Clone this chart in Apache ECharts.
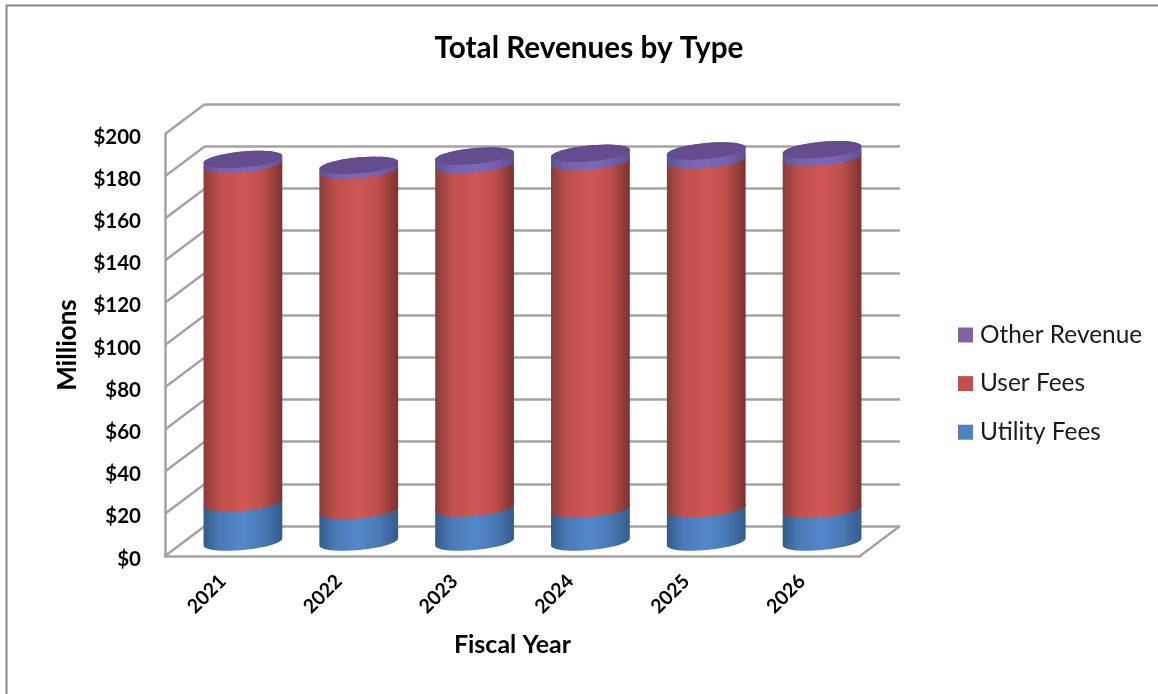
<!DOCTYPE html>
<html>
<head>
<meta charset="utf-8">
<title>Total Revenues by Type</title>
<style>html,body{margin:0;padding:0;background:#fff}#chart{width:1158px;height:694px}</style>
<script src="https://cdn.jsdelivr.net/npm/echarts@6/dist/echarts.min.js"></script>
</head>
<body>
<div id="chart"></div>
<script>
const years = ['2021', '2022', '2023', '2024', '2025', '2026'];
const utilityFees = [18.5, 14.9, 16.1, 15.6, 15.8, 15.4];
const userFees = [160.6, 161.4, 162.8, 164.6, 165.2, 166.9];
const otherRevenue = [2.2, 2.2, 4, 4, 4.3, 3.6];
const yTicks = [0, 20, 40, 60, 80, 100, 120, 140, 160, 180, 200];

const FONT = 'Lato, "Open Sans", sans-serif';
const DEPTH_X = 40, DEPTH_Y = 30;           // offset from the front plane to the back wall
const FRONT = { left: 165, right: 860, top: 134, bottom: 556 };
const WIDTH = 1158, HEIGHT = 694;
const WALL = '#a3a3a3';
const RIM_HEIGHT = 8;                       // vertical half-axis of a cylinder's rim
const RIM_SLANT = 3.5 / 39;                 // rise of the rim towards its right end

function gridAt(depth, nudge) {
  return {
    left: FRONT.left + DEPTH_X * depth,
    width: FRONT.right - FRONT.left,
    top: FRONT.top - DEPTH_Y * depth + (nudge || 0),
    height: FRONT.bottom - FRONT.top,
    containLabel: false
  };
}

function shaded(dark, mid, bright, darker) {
  return {
    type: 'linear', x: 0, y: 0, x2: 1, y2: 0,
    colorStops: [
      { offset: 0, color: dark },
      { offset: 0.2, color: mid },
      { offset: 0.5, color: bright },
      { offset: 0.75, color: mid },
      { offset: 1, color: darker }
    ]
  };
}

// Points of a slanted ellipse between the angles from and to (radians).
function arc(cx, cy, a, from, to) {
  const pts = [], steps = 40;
  for (let i = 0; i <= steps; i++) {
    const t = from + (to - from) * i / steps;
    pts.push([cx + a * Math.cos(t), cy + RIM_HEIGHT * Math.sin(t) - RIM_SLANT * a * Math.cos(t)]);
  }
  return pts;
}

function cylinderSegment(fill, capFill) {
  return function (params, api) {
    const low = api.coord([api.value(0), api.value(1)]);
    const high = api.coord([api.value(0), api.value(2)]);
    const a = api.size([1, 0])[0] * 0.34;
    const lowerFront = arc(low[0], low[1], a, Math.PI, 0);
    const upperBack = arc(high[0], high[1], a, 0, -Math.PI);
    const children = [{
      type: 'polygon',
      shape: { points: lowerFront.concat(upperBack) },
      style: { fill: fill }
    }];
    if (capFill) {
      children.push({
        type: 'polygon',
        shape: { points: arc(high[0], high[1], a, 0, Math.PI * 2) },
        style: { fill: capFill }
      });
    }
    return { type: 'group', children: children };
  };
}

function segments(values, below) {
  return values.map((v, i) => [i, below[i], below[i] + v]);
}
const userBase = utilityFees;
const otherBase = utilityFees.map((v, i) => v + userFees[i]);

function cylinderSeries(name, color, data, fill, capFill) {
  return {
    name: name,
    type: 'custom',
    xAxisIndex: 1,
    yAxisIndex: 1,
    silent: true,
    clip: false,
    itemStyle: { color: color },
    encode: { x: 0, y: [1, 2] },
    data: data,
    renderItem: cylinderSegment(fill, capFill),
    z: 5
  };
}

const chart = echarts.init(document.getElementById('chart'), null, { renderer: 'canvas' });
chart.setOption({
  animation: false,
  backgroundColor: '#ffffff',
  textStyle: { fontFamily: FONT },
  title: {
    text: 'Total Revenues by Type',
    left: 584, top: 28, textAlign: 'center',
    textStyle: { fontFamily: FONT, fontSize: 29.7, fontWeight: 'bold', color: '#000' }
  },
  legend: {
    orient: 'vertical',
    left: 953, top: 318,
    itemWidth: 15, itemHeight: 15, itemGap: 24.6,
    icon: 'rect',
    data: ['Other Revenue', 'User Fees', 'Utility Fees'],
    textStyle: { fontFamily: FONT, fontSize: 24.4, color: '#1a1a1a', padding: [0, 0, 0, 2] }
  },
  graphic: [{
    type: 'polyline',
    shape: { points: [[6.5, HEIGHT], [6.5, 5.5], [WIDTH, 5.5]] },
    style: { stroke: '#888888', lineWidth: 2, fill: null },
    silent: true
  }],
  grid: [gridAt(0), gridAt(0.5, 1), gridAt(1)],
  xAxis: [
    {
      gridIndex: 0, type: 'category', data: years,
      axisLine: { show: true, lineStyle: { color: WALL, width: 2.5 } },
      axisTick: { show: false },
      axisLabel: { rotate: 45, margin: 22, color: '#000', fontWeight: 'bold', fontSize: 19.5, fontFamily: FONT },
      name: 'Fiscal Year', nameLocation: 'middle', nameGap: 76,
      nameTextStyle: { color: '#000', fontWeight: 'bold', fontSize: 25, fontFamily: FONT }
    },
    { gridIndex: 1, type: 'category', data: years, show: false },
    {
      gridIndex: 2, type: 'category', data: years,
      axisLine: { show: false }, axisTick: { show: false }, axisLabel: { show: false }
    }
  ],
  yAxis: [
    {
      gridIndex: 0, type: 'value', min: 0, max: 200, interval: 20,
      axisLine: { show: true, lineStyle: { color: WALL, width: 2.5 } },
      axisTick: { show: false },
      splitLine: { show: false },
      axisLabel: { margin: 24, color: '#000', fontWeight: 'bold', fontSize: 20.5, fontFamily: FONT, verticalAlign: 'top', lineHeight: 6, formatter: '${value}' },
      name: 'Millions', nameLocation: 'middle', nameRotate: 90, nameGap: 84,
      nameTextStyle: { color: '#000', fontWeight: 'bold', fontSize: 26, fontFamily: FONT }
    },
    { gridIndex: 1, type: 'value', min: 0, max: 200, interval: 20, show: false },
    {
      gridIndex: 2, type: 'value', min: 0, max: 200, interval: 20,
      axisLine: { show: false }, axisTick: { show: false }, axisLabel: { show: false },
      splitLine: { show: true, lineStyle: { color: WALL, width: 2.5 } }
    }
  ],
  series: [
    {
      // side-wall rungs, plus the right edge of the floor
      type: 'custom',
      xAxisIndex: 0, yAxisIndex: 0,
      silent: true, clip: false, z: 1,
      encode: { y: 0 },
      data: yTicks.map(v => [v]),
      renderItem(params, api) {
        const sys = params.coordSys;
        const y = api.coord([0, api.value(0)])[1];
        const rung = x => ({
          type: 'line',
          shape: { x1: x, y1: y, x2: x + DEPTH_X, y2: y - DEPTH_Y },
          style: { stroke: WALL, lineWidth: 2.5 }
        });
        const parts = [rung(sys.x)];
        if (api.value(0) === 0) parts.push(rung(sys.x + sys.width));
        return { type: 'group', children: parts };
      }
    },
    cylinderSeries('Utility Fees', '#4f81bd', segments(utilityFees, utilityFees.map(() => 0)),
      shaded('#335a8a', '#4a7ab5', '#5288cb', '#345c8c')),
    cylinderSeries('User Fees', '#c0504d', segments(userFees, userBase),
      shaded('#8a3b39', '#bd4f4c', '#cf5856', '#7c3331')),
    cylinderSeries('Other Revenue', '#8064a2', segments(otherRevenue, otherBase),
      shaded('#5f4f92', '#7362ae', '#7c68b6', '#5f4f92'), '#654c8f')
  ]
});
</script>
</body>
</html>
